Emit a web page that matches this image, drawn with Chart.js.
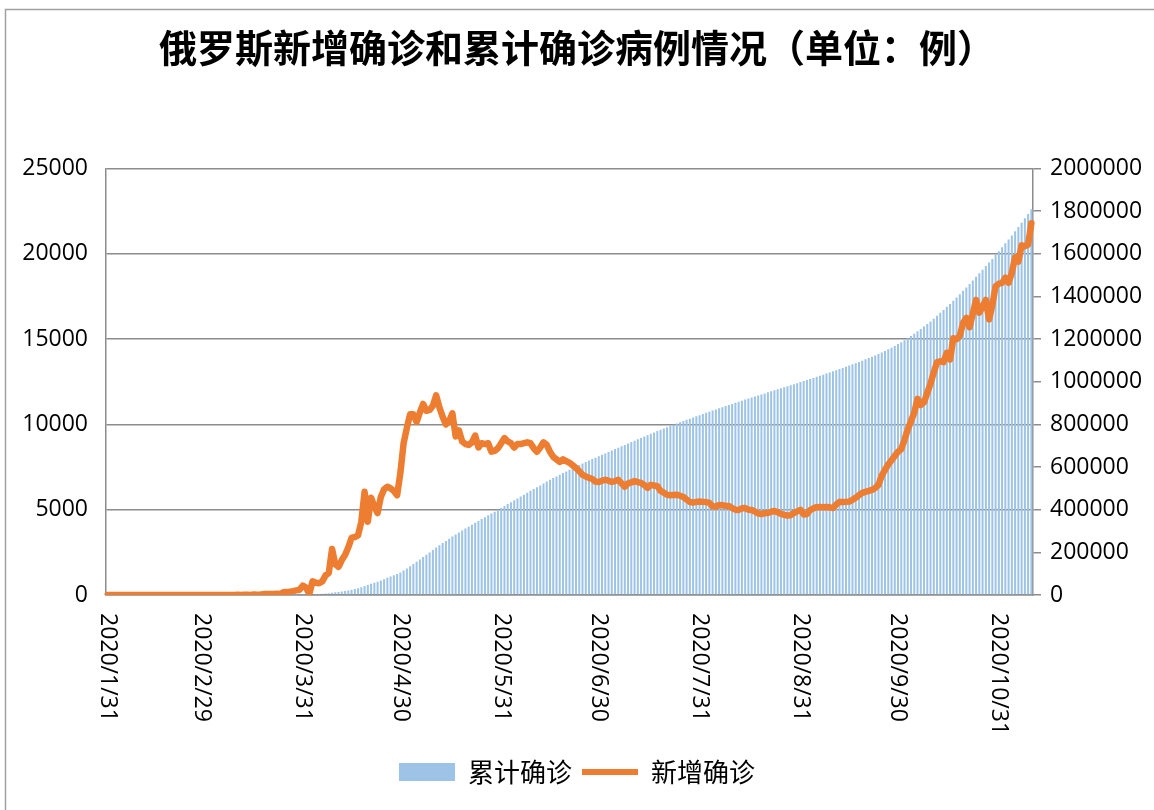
<!DOCTYPE html>
<html>
<head>
<meta charset="utf-8">
<script src="https://cdn.jsdelivr.net/npm/chart.js@4.4.1/dist/chart.umd.min.js"></script>
<style>
  html, body { margin: 0; padding: 0; background: #fff; }
</style>
</head>
<body>
<canvas id="graficoRussia" width="1154" height="810"></canvas>
<script>
// novos casos diarios (eixo esquerdo)
var xinzeng = [
  2, 0, 0, 0, 0, 0, 0, 0, 0, 0,
  0, 0, 0, 0, 0, 0, 0, 0, 0, 0,
  0, 0, 0, 0, 0, 0, 0, 0, 0, 0,
  0, 1, 0, 0, 0, 3, 3, 0, 0, 4,
  11, 6, 11, 14, 4, 30, 21, 33, 52, 54,
  53, 61, 71, 57, 163, 182, 196, 228, 270, 302,
  550, 440, 60, 800, 720, 690, 800, 1150, 1300, 2700,
  1800, 1650, 2050, 2350, 2800, 3350, 3400, 3500, 4300, 6050,
  4300, 5700, 5200, 4800, 5750, 6200, 6350, 6250, 6100, 5850,
  7150, 8900, 9800, 10600, 10600, 10150, 10700, 11200, 10800, 10850,
  11100, 11700, 11000, 10450, 10000, 10200, 10650, 9300, 9650, 9000,
  8850, 8800, 8950, 9350, 8650, 8900, 8850, 8900, 8400, 8450,
  8600, 8900, 9200, 9000, 8900, 8650, 8850, 8850, 8900, 8950,
  8900, 8600, 8400, 8650, 8950, 8800, 8400, 8100, 7950, 7800,
  7950, 7850, 7750, 7600, 7450, 7250, 7050, 6950, 6870, 6800,
  6650, 6620, 6700, 6750, 6700, 6630, 6680, 6750, 6550, 6350,
  6550, 6600, 6680, 6620, 6570, 6450, 6280, 6460, 6420, 6380,
  6100, 6000, 5880, 5850, 5870, 5880, 5820, 5750, 5600, 5450,
  5420, 5460, 5480, 5460, 5450, 5400, 5200, 5180, 5280, 5260,
  5230, 5220, 5100, 5000, 4990, 5080, 5100, 5000, 4980, 4900,
  4780, 4750, 4800, 4810, 4880, 4930, 4850, 4760, 4700, 4660,
  4680, 4810, 4900, 4990, 4720, 4750, 4990, 5080, 5150, 5160,
  5150, 5160, 5140, 5100, 5300, 5460, 5450, 5460, 5480, 5580,
  5700, 5850, 5990, 6050, 6100, 6160, 6280, 6460, 7000, 7340,
  7650, 7900, 8150, 8400, 8550, 9100, 9700, 10200, 10700, 11500,
  11150, 11300, 11850, 12400, 13050, 13650, 13700, 13650, 14200, 13800,
  15050, 15000, 15200, 15950, 16250, 15700, 16500, 17300, 16550, 16900,
  17300, 16150, 17000, 18100, 18250, 18300, 18600, 18300, 18900, 19800,
  19550, 20500, 20450, 20550, 21800
];

// casos acumulados (eixo direito)
var leiji = [
  2, 2, 2, 2, 2, 2, 2, 2, 2, 2,
  2, 2, 2, 2, 2, 2, 2, 2, 2, 2,
  2, 2, 2, 2, 2, 2, 2, 2, 2, 2,
  2, 3, 3, 3, 3, 6, 9, 9, 9, 13,
  24, 30, 41, 55, 59, 89, 110, 143, 195, 249,
  302, 363, 434, 491, 654, 836, 1032, 1260, 1530, 1832,
  2382, 2822, 2882, 3682, 4402, 5092, 5892, 7042, 8342, 11042,
  12842, 14492, 16542, 18892, 21692, 25042, 28442, 31942, 36242, 42292,
  46592, 52292, 57492, 62292, 68042, 74242, 80592, 86842, 92942, 98792,
  105942, 114842, 124642, 135242, 145842, 155992, 166692, 177892, 188692, 199542,
  210642, 222342, 233342, 243792, 253792, 263992, 274642, 283942, 293592, 302592,
  311442, 320242, 329192, 338542, 347192, 356092, 364942, 373842, 382242, 390692,
  399292, 408192, 417392, 426392, 435292, 443942, 452792, 461642, 470542, 479492,
  488392, 496992, 505392, 514042, 522992, 531792, 540192, 548292, 556242, 564042,
  571992, 579842, 587592, 595192, 602642, 609892, 616942, 623892, 630762, 637562,
  644212, 650832, 657532, 664282, 670982, 677612, 684292, 691042, 697592, 703942,
  710492, 717092, 723772, 730392, 736962, 743412, 749692, 756152, 762572, 768952,
  775052, 781052, 786932, 792782, 798652, 804532, 810352, 816102, 821702, 827152,
  832572, 838032, 843512, 848972, 854422, 859822, 865022, 870202, 875482, 880742,
  885972, 891192, 896292, 901292, 906282, 911362, 916462, 921462, 926442, 931342,
  936122, 940872, 945672, 950482, 955362, 960292, 965142, 969902, 974602, 979262,
  983942, 988752, 993652, 998642, 1003362, 1008112, 1013102, 1018182, 1023332, 1028492,
  1033642, 1038802, 1043942, 1049042, 1054342, 1059802, 1065252, 1070712, 1076192, 1081772,
  1087472, 1093322, 1099312, 1105362, 1111462, 1117622, 1123902, 1130362, 1137362, 1144702,
  1152352, 1160252, 1168402, 1176802, 1185352, 1194452, 1204152, 1214352, 1225052, 1236552,
  1247702, 1259002, 1270852, 1283252, 1296302, 1309952, 1323652, 1337302, 1351502, 1365302,
  1380352, 1395352, 1410552, 1426502, 1442752, 1458452, 1474952, 1492252, 1508802, 1525702,
  1543002, 1559152, 1576152, 1594252, 1612502, 1630802, 1649402, 1667702, 1686602, 1706402,
  1725952, 1746452, 1766902, 1787452, 1809252
];

// rotulos do eixo x (fim de cada mes)
var rotulosX = ['2020/1/31', '2020/2/29', '2020/3/31', '2020/4/30', '2020/5/31',
  '2020/6/30', '2020/7/31', '2020/8/31', '2020/9/30', '2020/10/31'];

// datas diarias a partir de 2020/1/31
var riqi = [];
var dia = new Date(2020, 0, 31);
for (var i = 0; i < xinzeng.length; i++) {
  riqi.push(dia.getFullYear() + '/' + (dia.getMonth() + 1) + '/' + dia.getDate());
  dia.setDate(dia.getDate() + 1);
}

var cinza = '#8c8c8c';
var fonteNum = '"Open Sans", "Liberation Sans", sans-serif';
var fonteCJK = '"Noto Sans CJK SC", sans-serif';

var fundo = {
  id: 'fundo',
  beforeDraw: function (chart) {
    var ctx = chart.ctx;
    ctx.save();
    ctx.fillStyle = '#fff';
    ctx.fillRect(0, 0, chart.width, chart.height);
    ctx.strokeStyle = '#a0a0a0';
    ctx.lineWidth = 1.5;
    ctx.beginPath();
    ctx.moveTo(5.5, chart.height);
    ctx.lineTo(5.5, 9.5);
    ctx.lineTo(chart.width, 9.5);
    ctx.stroke();
    ctx.restore();
  }
};

var rotuloX = {
  id: 'rotuloX',
  afterDraw: function (chart) {
    var ctx = chart.ctx;
    var xs = chart.scales.x;
    ctx.save();
    ctx.font = '23px ' + fonteNum;
    ctx.fillStyle = '#000';
    ctx.textAlign = 'left';
    ctx.textBaseline = 'middle';
    rotulosX.forEach(function (r) {
      var px = xs.getPixelForValue(riqi.indexOf(r));
      ctx.save();
      ctx.translate(px, xs.top + 18);
      ctx.rotate(Math.PI / 2);
      ctx.fillText(r, 0, 0);
      ctx.restore();
    });
    ctx.restore();
  }
};

function semVirgula(v) { return String(v); }

var ctx1 = document.getElementById('graficoRussia');
var grafico = new Chart(ctx1, {
  data: {
    labels: riqi,
    datasets: [{
      type: 'line',
      label: '新增确诊',
      data: xinzeng,
      yAxisID: 'y',
      borderColor: '#ED7D31',
      backgroundColor: '#ED7D31',
      borderWidth: 6.5,
      borderJoinStyle: 'round',
      borderCapStyle: 'round',
      pointRadius: 0,
      pointHoverRadius: 0,
      pointStyle: 'line',
      pointBorderWidth: 6,
      pointBorderColor: '#ED7D31',
      tension: 0,
      order: 1
    }, {
      type: 'bar',
      label: '累计确诊',
      data: leiji,
      yAxisID: 'y2',
      backgroundColor: '#9DC3E6',
      borderWidth: 0,
      barPercentage: 0.62,
      categoryPercentage: 1.0,
      pointStyle: 'rect',
      order: 2
    }]
  },
  options: {
    responsive: false,
    animation: false,
    devicePixelRatio: 1,
    layout: { padding: { left: 0, right: 0, top: 0, bottom: 15 } },
    plugins: {
      title: {
        display: true,
        text: '俄罗斯新增确诊和累计确诊病例情况（单位：例）',
        color: '#000',
        font: { family: fonteCJK, size: 38, weight: 'bold' },
        padding: { top: 25, bottom: 98 }
      },
      legend: {
        position: 'bottom',
        reverse: true,
        labels: {
          usePointStyle: true,
          pointStyleWidth: 56,
          boxHeight: 18,
          color: '#000',
          padding: 10,
          font: { family: fonteCJK, size: 26 }
        }
      },
      tooltip: { enabled: false }
    },
    scales: {
      x: {
        offset: true,
        grid: { display: false },
        border: { display: true, color: cinza, width: 1.5 },
        ticks: { display: false },
        afterFit: function (scale) { scale.height = 154; }
      },
      y: {
        position: 'left',
        min: 0,
        max: 25000,
        grid: { color: cinza, lineWidth: 1.5, drawTicks: false },
        border: { display: true, color: cinza, width: 1.5 },
        ticks: {
          stepSize: 5000,
          padding: 18,
          color: '#000',
          font: { family: fonteNum, size: 23 },
          callback: semVirgula
        },
        afterFit: function (scale) { scale.width = 106; }
      },
      y2: {
        position: 'right',
        min: 0,
        max: 2000000,
        grid: { drawOnChartArea: false, color: cinza, lineWidth: 1.5, tickLength: 8 },
        border: { display: true, color: cinza, width: 1.5 },
        ticks: {
          stepSize: 200000,
          padding: 9,
          color: '#000',
          font: { family: fonteNum, size: 23 },
          callback: semVirgula
        },
        afterFit: function (scale) { scale.width = 121; }
      }
    }
  },
  plugins: [fundo, rotuloX]
});
</script>
</body>
</html>
